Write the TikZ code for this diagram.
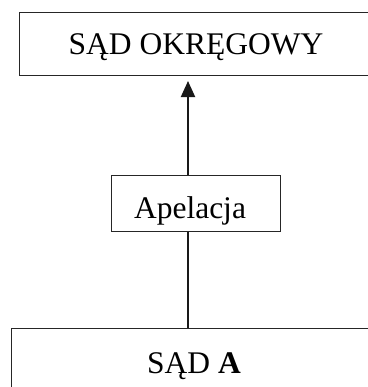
\documentclass[tikz,border=0pt]{standalone}
\usepackage{fontspec}
\setmainfont{Liberation Serif}
\usetikzlibrary{arrows.meta}
\begin{document}
\begin{tikzpicture}[x=1bp,y=-1bp,
  box/.style={draw=black!85, line width=1bp, inner sep=0pt, fill=white,
    font=\fontsize{31.5bp}{36bp}\selectfont, text depth=0pt},
  link/.style={line width=2bp, black!90}]
\useasboundingbox (0,0) rectangle (368,387);
\node[box, minimum width=352bp, minimum height=63bp, text height=21bp] (okr) at (196,43.5) {SĄD OKRĘGOWY};
\node[box, minimum width=168bp, minimum height=56bp, text height=30bp] (ap) at (196,203) {\hspace*{-12bp}Apelacja};
\node[box, minimum width=364bp, minimum height=69bp, text height=21bp] (sa) at (194,362.5) {SĄD \textbf{A}};
\draw[link] ([xshift=-8bp]ap.south) -- ([xshift=-8bp]ap.south |- sa.north);
\draw[link, -{Triangle[width=14bp,length=16bp]}, shorten >=5.5bp] ([xshift=-8bp]ap.north) -- ([xshift=-8bp]ap.north |- okr.south);
\end{tikzpicture}
\end{document}
